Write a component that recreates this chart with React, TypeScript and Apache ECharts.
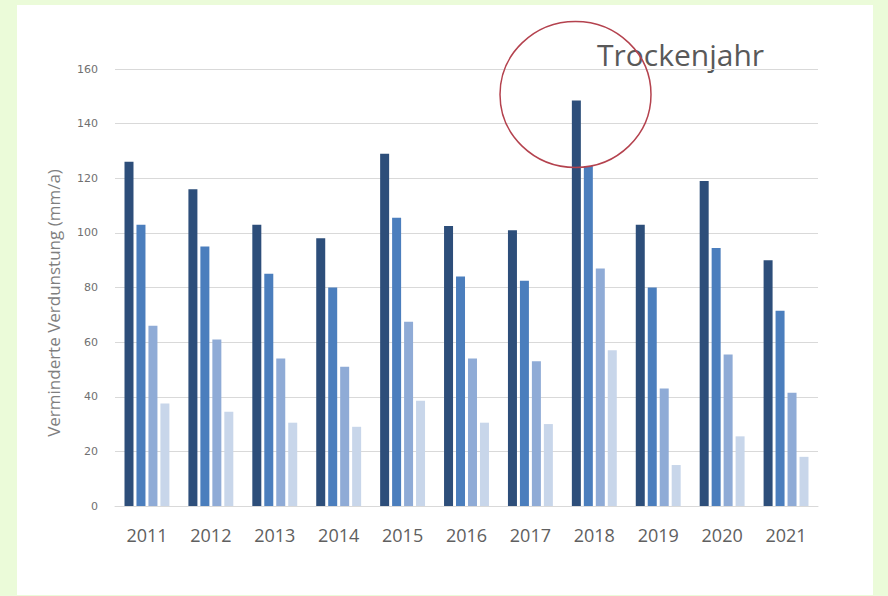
import React, { useEffect, useRef } from "react";
import * as echarts from "echarts";

const categories = ["2011", "2012", "2013", "2014", "2015", "2016", "2017", "2018", "2019", "2020", "2021"];
const series1 = [126, 116, 103, 98, 129, 102.5, 101, 148.5, 103, 119, 90];
const series2 = [103, 95, 85, 80, 105.5, 84, 82.5, 124.5, 80, 94.5, 71.5];
const series3 = [66, 61, 54, 51, 67.5, 54, 53, 87, 43, 55.5, 41.5];
const series4 = [37.5, 34.5, 30.5, 29, 38.5, 30.5, 30, 57, 15, 25.5, 18];
const yTicks = { min: 0, max: 160, interval: 20 };
const colors = ["#2d4e7a", "#4b7ebd", "#8fabd6", "#c8d6ea"];
const axisName = "Verminderte Verdunstung (mm/a)";
const annotation = "Trockenjahr";

export default function App() {
  const ref = useRef<HTMLDivElement>(null);
  useEffect(() => {
    if (!ref.current) return;
    const chart = echarts.init(ref.current, null, { renderer: "svg" });
    const mk = (data: number[], i: number) => ({
      type: "bar",
      data,
      barWidth: 9,
      barGap: "33%",
      itemStyle: { color: colors[i] },
    });
    chart.setOption({
      animation: false,
      backgroundColor: "transparent",
      grid: { left: 115, right: 70, top: 69, bottom: 90 },
      xAxis: {
        type: "category",
        data: categories,
        axisLine: { lineStyle: { color: "#d9d9d9" } },
        axisTick: { show: false },
        axisLabel: { color: "#606060", fontSize: 18, fontFamily: "Open Sans", margin: 20 },
      },
      yAxis: {
        type: "value",
        min: yTicks.min,
        max: yTicks.max,
        interval: yTicks.interval,
        axisLine: { show: false },
        axisTick: { show: false },
        axisLabel: { color: "#707070", fontSize: 11, fontFamily: "DejaVu Sans", margin: 17 },
        splitLine: { lineStyle: { color: "#d9d9d9" } },
      },
      series: [mk(series1, 0), mk(series2, 1), mk(series3, 2), mk(series4, 3)],
      graphic: [
        {
          type: "text",
          x: 53,
          y: 303,
          rotation: Math.PI / 2,
          style: {
            text: axisName,
            fontSize: 17,
            fontFamily: "Open Sans",
            fill: "#7f7f7f",
            align: "center",
            verticalAlign: "middle",
          },
        },
        {
          type: "text",
          x: 597,
          y: 54,
          style: {
            text: annotation,
            fontSize: 30,
            fontFamily: "Open Sans",
            fill: "#595959",
            align: "left",
            verticalAlign: "middle",
          },
        },
        {
          type: "ellipse",
          z: 100,
          shape: { cx: 575.5, cy: 94.5, rx: 75.5, ry: 73 },
          style: { fill: "none", stroke: "#b4424e", lineWidth: 1.5 },
        },
      ],
    });
    return () => chart.dispose();
  }, []);
  return (
    <div style={{ position: "fixed", left: 0, top: 0, width: 888, height: 596, background: "#ebfbd9" }}>
      <div style={{ position: "absolute", left: 17, top: 5, width: 856, height: 590, background: "#ffffff" }} />
      <div ref={ref} style={{ position: "absolute", left: 0, top: 0, width: 888, height: 596 }} />
    </div>
  );
}
